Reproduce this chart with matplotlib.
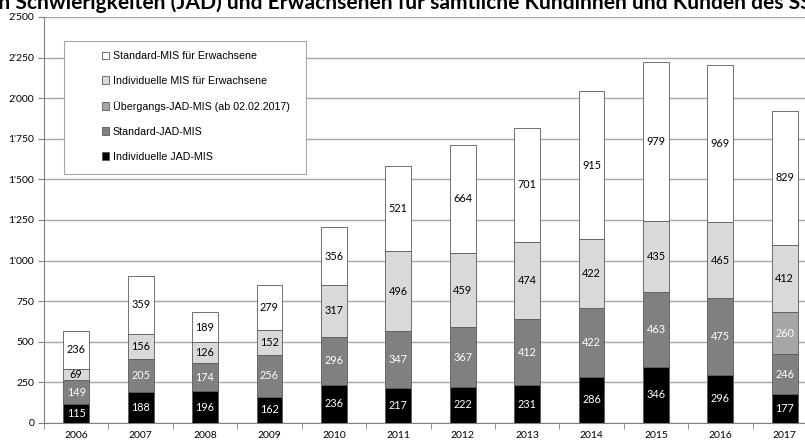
import numpy as np
import matplotlib.pyplot as plt
from matplotlib.ticker import FuncFormatter
from matplotlib.patches import Rectangle

# Daten
jahre = ['2006', '2007', '2008', '2009', '2010', '2011', '2012', '2013', '2014', '2015', '2016', '2017']
ind_jad = [115, 188, 196, 162, 236, 217, 222, 231, 286, 346, 296, 177]
std_jad = [149, 205, 174, 256, 296, 347, 367, 412, 422, 463, 475, 246]
ueb_jad = [0, 0, 0, 0, 0, 0, 0, 0, 0, 0, 0, 260]
ind_erw = [69, 156, 126, 152, 317, 496, 459, 474, 422, 435, 465, 412]
std_erw = [236, 359, 189, 279, 356, 521, 664, 701, 915, 979, 969, 829]

serien = [
    ('Individuelle JAD-MIS', ind_jad, '#000000', 'white'),
    ('Standard-JAD-MIS', std_jad, '#808080', 'white'),
    ('Übergangs-JAD-MIS (ab 02.02.2017)', ueb_jad, '#a6a6a6', 'white'),
    ('Individuelle MIS für Erwachsene', ind_erw, '#d9d9d9', 'black'),
    ('Standard-MIS für Erwachsene', std_erw, '#ffffff', 'black'),
]

fig = plt.figure(figsize=(8.05, 4.41), dpi=100)
W, H = 805, 441
ax = fig.add_axes([44 / W, 18 / H, (817 - 44) / W, (423 - 17) / H])

x = np.arange(len(jahre))
unten = np.zeros(len(jahre))
for name, werte, farbe, tfarbe in serien:
    werte = np.array(werte, dtype=float)
    ax.bar(x, werte, 0.4, bottom=unten, color=farbe, edgecolor='#595959',
           linewidth=0.6, zorder=3, label=name)
    for i, v in enumerate(werte):
        if v > 0:
            ax.text(x[i], unten[i] + v / 2, f'{int(v)}', ha='center', va='center',
                    fontsize=7.8, color=tfarbe, family='Lato', zorder=4)
    unten += werte

ax.set_xlim(-0.5, len(jahre) - 0.5)
ax.set_ylim(0, 2500)
ax.set_yticks(np.arange(0, 2501, 250))
ax.yaxis.set_major_formatter(FuncFormatter(lambda v, p: f'{int(v):,}'.replace(',', "'")))
ax.grid(axis='y', color='#a6a6a6', linewidth=1.0, zorder=0)
ax.set_xticks(x)
ax.set_xticklabels(jahre)
ax.set_xticks(np.arange(-0.5, len(jahre), 1), minor=True)
ax.tick_params(axis='x', which='major', length=0, pad=6, labelsize=7.5)
ax.tick_params(axis='x', which='minor', length=4, color='#808080')
ax.tick_params(axis='y', length=4, color='#808080', labelsize=7.5, pad=3)
for lab in ax.get_xticklabels() + ax.get_yticklabels():
    lab.set_family('Lato')
ax.spines['top'].set_visible(False)
ax.spines['right'].set_visible(False)
ax.spines['left'].set_color('#808080')
ax.spines['bottom'].set_color('#808080')

# Legendenrahmen (links breiter Rand wie im Original)
fig.add_artist(Rectangle((64 / W, 1 - 174 / H), (306 - 64) / W, (174 - 41) / H,
                         transform=fig.transFigure, facecolor='white',
                         edgecolor='#a6a6a6', linewidth=0.8, zorder=5))
handles, labels = ax.get_legend_handles_labels()
leg = fig.legend(handles[::-1], labels[::-1], loc='upper left',
                 bbox_to_anchor=(102 / W, 1 - 51 / H),
                 prop={'family': 'Liberation Sans', 'size': 7.7},
                 handlelength=0.7, handleheight=0.7, handletextpad=0.3,
                 labelspacing=1.4, borderpad=0, frameon=False, borderaxespad=0)
leg.set_zorder(6)

fig.text(-7 / W, 1 - 9 / H, 'in Schwierigkeiten (JAD) und Erwachsenen für sämtliche Kundinnen und Kunden des SSLV',
         ha='left', va='baseline', fontsize=15.1, fontweight='bold', family='Lato')

fig.savefig('out.png', dpi=100)
